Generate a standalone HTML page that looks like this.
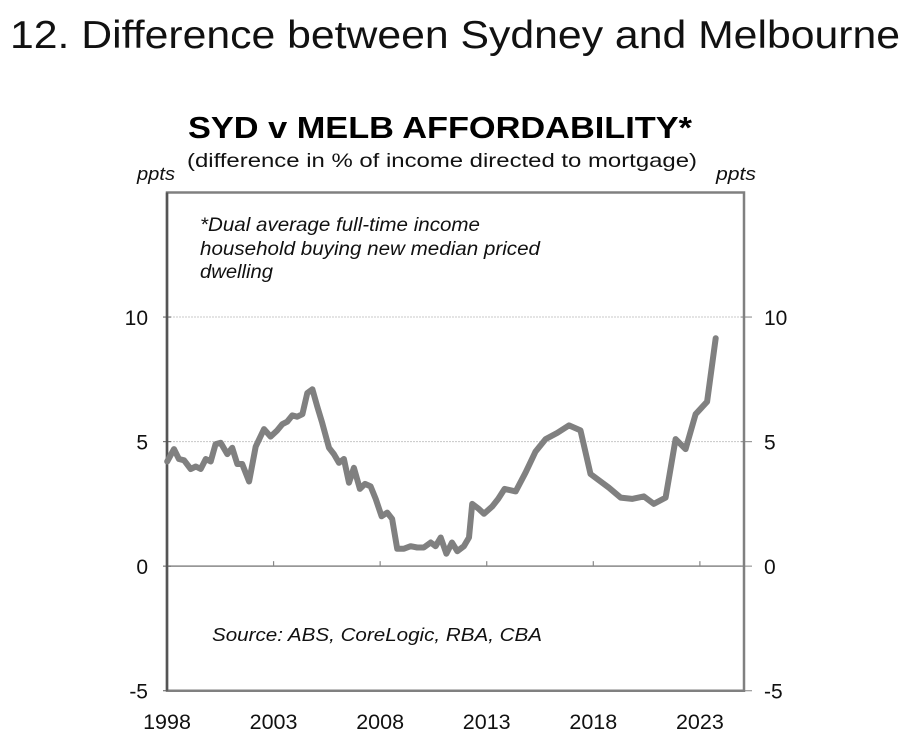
<!DOCTYPE html>
<html><head><meta charset="utf-8"><style>
html,body{margin:0;padding:0;background:#fff;}
svg{display:block;font-family:"Liberation Sans",Arial,sans-serif;}
</style></head><body>
<svg id="chart" width="904" height="745" viewBox="0 0 904 745" xmlns="http://www.w3.org/2000/svg">
<text x="10" y="48" font-size="39" fill="#111" textLength="890" lengthAdjust="spacingAndGlyphs">12. Difference between Sydney and Melbourne</text>
<text x="188" y="138" font-size="31" font-weight="bold" fill="#000" textLength="504" lengthAdjust="spacingAndGlyphs">SYD v MELB AFFORDABILITY*</text>
<text x="187" y="167" font-size="19.5" fill="#111" textLength="510" lengthAdjust="spacingAndGlyphs">(difference in % of income directed to mortgage)</text>
<text x="137" y="180" font-size="18" font-style="italic" fill="#111" textLength="38" lengthAdjust="spacingAndGlyphs">ppts</text>
<text x="716" y="180" font-size="18" font-style="italic" fill="#111" textLength="40" lengthAdjust="spacingAndGlyphs">ppts</text>
<g id="grid"></g>
<g id="axes"></g>
<text font-size="19" font-style="italic" fill="#111">
<tspan x="200" y="231" textLength="280" lengthAdjust="spacingAndGlyphs">*Dual average full-time income</tspan>
<tspan x="200" y="255" textLength="340" lengthAdjust="spacingAndGlyphs">household buying new median priced</tspan>
<tspan x="200" y="278" textLength="73" lengthAdjust="spacingAndGlyphs">dwelling</tspan>
</text>
<text x="212" y="641" font-size="18" font-style="italic" fill="#111" textLength="330" lengthAdjust="spacingAndGlyphs">Source: ABS, CoreLogic, RBA, CBA</text>
<g id="series"></g>
</svg>
<script>
const years = [1998.01,1998.33,1998.56,1998.80,1999.11,1999.35,1999.58,1999.82,2000.05,2000.28,2000.52,2000.83,2001.06,2001.30,2001.53,2001.85,2002.16,2002.55,2002.86,2003.17,2003.41,2003.64,2003.88,2004.11,2004.35,2004.58,2004.82,2005.05,2005.28,2005.60,2005.83,2006.07,2006.30,2006.54,2006.77,2007.05,2007.29,2007.55,2007.79,2008.07,2008.33,2008.56,2008.80,2009.12,2009.43,2009.74,2010.05,2010.37,2010.60,2010.84,2011.11,2011.37,2011.62,2011.93,2012.17,2012.32,2012.63,2012.87,2013.26,2013.54,2013.84,2014.36,2014.82,2015.29,2015.76,2016.31,2016.86,2017.40,2017.87,2018.73,2019.28,2019.82,2020.37,2020.84,2021.39,2021.86,2022.33,2022.80,2023.34,2023.74];
const values = [4.2,4.7,4.3,4.25,3.9,4.0,3.9,4.3,4.2,4.9,4.95,4.5,4.75,4.1,4.1,3.4,4.8,5.5,5.2,5.45,5.7,5.8,6.05,6.0,6.1,6.95,7.1,6.4,5.75,4.75,4.5,4.15,4.3,3.35,3.95,3.1,3.3,3.2,2.7,2.0,2.15,1.9,0.7,0.7,0.8,0.75,0.75,0.95,0.8,1.15,0.5,0.95,0.6,0.8,1.15,2.5,2.3,2.1,2.4,2.7,3.1,3.0,3.75,4.6,5.1,5.35,5.65,5.45,3.7,3.15,2.75,2.7,2.8,2.5,2.75,5.1,4.7,6.1,6.6,9.15];
const yTicks = [-5,0,5,10];
const xTicks = [1998,2003,2008,2013,2018,2023];

const NS = "http://www.w3.org/2000/svg";
const L = 167, R = 744, T = 192.5, B = 690.7;
const X0 = 1998, X1 = 2025.07, Y0 = -5, Y1 = 15;
function xs(v){ return L + (v - X0) / (X1 - X0) * (R - L); }
function ys(v){ return B - (v - Y0) / (Y1 - Y0) * (B - T); }
function mk(tag, attrs, parent){ const e = document.createElementNS(NS, tag); for (const k in attrs) e.setAttribute(k, attrs[k]); parent.appendChild(e); return e; }

const grid = document.getElementById('grid');
const axes = document.getElementById('axes');
yTicks.forEach(v => {
  const y = ys(v);
  if (v === 5 || v === 10) {
    const g = mk('line', {x1:L, x2:R, y1:y, y2:y, stroke:'#c8c8c8', 'stroke-width':1, 'stroke-dasharray':'2,1'}, grid);
    
    
  }
  if (v === 0) {
    const z = mk('line', {x1:L, x2:R, y1:y, y2:y, stroke:'#888', 'stroke-width':1.5}, grid);
    
    
  }
  const tl = mk('line', {x1:L-4, x2:L+4, y1:y, y2:y, stroke:'#777', 'stroke-width':1.2}, axes);
  
  
  const tr = mk('line', {x1:R-3, x2:R+8, y1:y, y2:y, stroke:'#999', 'stroke-width':1.2}, axes);
  
  
  const lt = mk('text', {x:148, y:y+8, 'font-size':21, 'text-anchor':'end', fill:'#111'}, axes);
  lt.textContent = String(v);
  
  
  const rt = mk('text', {x:764, y:y+8, 'font-size':21, fill:'#111'}, axes);
  rt.textContent = String(v);
  
  
});
xTicks.forEach(v => {
  const x = xs(v);
  const t = mk('line', {x1:x, x2:x, y1:ys(0)-5, y2:ys(0), stroke:'#888', 'stroke-width':1.2}, axes);
  
  
  const lb = mk('text', {x:x, y:729, 'font-size':21.5, 'text-anchor':'middle', fill:'#111'}, axes);
  lb.textContent = String(v);
  
  
});
const frame = mk('path', {d:`M${L},${T} H${R} V${B} H${L} Z`, fill:'none', stroke:'#808080', 'stroke-width':2.5}, axes);


const leftAxis = mk('line', {x1:L, x2:L, y1:T, y2:B, stroke:'#555', 'stroke-width':2.5}, axes);



const series = document.getElementById('series');
const d = years.map((yr, i) => (i ? 'L' : 'M') + xs(yr).toFixed(1) + ',' + ys(values[i]).toFixed(1)).join(' ');
const line = mk('path', {d:d, fill:'none', stroke:'#808080', 'stroke-width':6, 'stroke-linejoin':'round', 'stroke-linecap':'round'}, series);


</script>
</body></html>
